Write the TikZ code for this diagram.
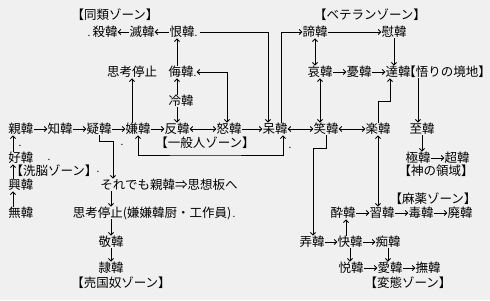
\documentclass[tikz,border=0pt]{standalone}
\usepackage{fontspec}
\setmainfont{Noto Sans CJK JP}
\usetikzlibrary{arrows.meta}
\definecolor{bg}{RGB}{240,240,240}
\newcommand\myzonelabel[1]{\kern-6pt#1\kern-6pt}
\begin{document}
\begin{tikzpicture}[x=1pt,y=-1pt,
  w/.style={inner sep=0pt, text height=11pt, text depth=1.5pt, font=\fontsize{12.5pt}{14pt}\selectfont},
  zone/.style={w},
  dotmark/.style={inner sep=0pt, anchor=base, font=\fontsize{10pt}{12pt}\selectfont},
  conn/.style={draw, line width=0.8pt, -{Straight Barb[length=2.5pt,width=5pt]}},
  conn2/.style={draw, line width=0.8pt, {Straight Barb[length=2.5pt,width=5pt]}-{Straight Barb[length=2.5pt,width=5pt]}},
  plain/.style={draw, line width=0.8pt}]
\fill[bg] (0,0) rectangle (490,300);
\useasboundingbox (0,0) rectangle (490,300);

% ---- zone labels
\node[zone] (zdourui) at (115,15) {\myzonelabel{【同類ゾーン】}};
\node[zone] (zveteran) at (370,15) {\myzonelabel{【ベテランゾーン】}};
\node[zone] (zippan) at (205,143) {\myzonelabel{【一般人ゾーン】}};
\node[zone] (zsennou) at (54,171) {\myzonelabel{【洗脳ゾーン】}};
\node[zone] (zkami) at (436,171) {\myzonelabel{【神の領域】}};
\node[zone] (zmayaku) at (433,199) {\myzonelabel{【麻薬ゾーン】}};
\node[zone] (zbaikoku) at (121,283) {\myzonelabel{【売国奴ゾーン】}};
\node[zone] (zhentai) at (408,283) {\myzonelabel{【変態ゾーン】}};

% ---- row y=32
\node[w] (satsu) at (105,32) {殺韓};
\node[w] (metsu) at (142,32) {滅韓};
\node[w] (kon) at (182,32) {恨韓};
\node[w] (tei) at (315,32) {諦韓};
\node[w] (i) at (394,32) {慰韓};

% ---- row y=72
\node[w] (shikou) at (132,72) {思考停止};
\node[w] (bu) at (181,72) {侮韓};
\node[w] (ai) at (320,72) {哀韓};
\node[w] (yuu) at (359,72) {憂韓};
\node[w] (tatsu) at (398,72) {達韓};
\node[zone] (satori) at (447,72) {\myzonelabel{【悟りの境地】}};

% ---- row y=101
\node[w] (rei) at (181,101) {冷韓};

% ---- main row y=129
\node[w] (shin) at (21,129) {親韓};
\node[w] (chi) at (60,129) {知韓};
\node[w] (gi) at (99,129) {疑韓};
\node[w] (ken) at (138,129) {嫌韓};
\node[w] (han) at (177,129) {反韓};
\node[w] (do) at (229,129) {怒韓};
\node[w] (bou) at (275,129) {呆韓};
\node[w] (shou) at (326,129) {笑韓};
\node[w] (raku) at (378,129) {楽韓};
\node[w] (shi) at (422,129) {至韓};

% ---- lower rows
\node[w] (kou) at (21,158) {好韓};
\node[w] (goku) at (418,158) {極韓};
\node[w] (chou) at (457,158) {超韓};
\node[w] (kou2) at (21,185) {興韓};
\node[w] (soredemo) at (169,185) {それでも親韓⇒思想板へ};
\node[w] (mu) at (21,213) {無韓};
\node[w] (shikou2) at (152,213) {思考停止(嫌嫌韓厨・工作員)};
\node[w] (sui) at (343,213) {酔韓};
\node[w] (shuu) at (382,213) {習韓};
\node[w] (doku) at (421,213) {毒韓};
\node[w] (hai) at (460,213) {廃韓};
\node[w] (kei) at (111,242) {敬韓};
\node[w] (rou) at (312,242) {弄韓};
\node[w] (kai) at (350,242) {快韓};
\node[w] (chi2) at (388,242) {痴韓};
\node[w] (rei2) at (111,268) {隷韓};
\node[w] (etsu) at (351,268) {悦韓};
\node[w] (ai2) at (390,268) {愛韓};
\node[w] (bu2) at (428,268) {撫韓};

% ---- stray dots printed in the picture
\node[dotmark] (d1) at (89,36) {.};
\node[dotmark] (d2) at (196,36) {.};
\node[dotmark] (d3) at (195,76) {.};
\node[dotmark] (d4) at (20,146) {.};
\node[dotmark] (d5) at (49,160) {.};
\node[dotmark] (d6) at (98,172) {.};
\node[dotmark] (d7) at (122,145) {.};
\node[dotmark] (d8) at (290,148) {.};
\node[dotmark] (d9) at (234,217) {.};

% ---- helper coordinates
\coordinate (bouL) at ([xshift=-7pt]bou.north);
\coordinate (bouR) at ([xshift=6pt]bou.north);
\coordinate (bouB) at ([xshift=8pt]bou.south);
\coordinate (kb) at (200,155);
\coordinate (gb) at (113,141);
\coordinate (rb) at (390,101);
\coordinate (sb) at (313,148);
\coordinate (shiN) at ([xshift=-4pt]shi.north);

% ---- top left
\draw[conn] (metsu.west) -- (satsu.east);
\draw[conn] (kon.west) -- (metsu.east);
\draw[conn] (bu.north -| han) -- (kon.south -| han);
\draw[conn] (rei.north -| han) -- (bu.south -| han);
\draw[conn] (rei.south -| han) -- (han.north);
\draw[conn] (ken.north -| shikou) -- (shikou.south);
\draw[conn2, shorten <=3pt] (bu.east) -| ([xshift=-2pt]do.north);
\draw[conn, shorten <=5pt] (kon.east) -| (bouL);
\draw[conn] (bouR) |- (tei.west);

% ---- main row
\draw[conn] (shin.east) -- (chi.west);
\draw[conn] (chi.east) -- (gi.west);
\draw[conn] (gi.east) -- (ken.west);
\draw[conn] (ken.east) -- (han.west);
\draw[conn2] (han.east) -- (do.west);
\draw[conn] (do.east) -- (bou.west);
\draw[conn2] (bou.east) -- (shou.west);
\draw[conn2] (shou.east) -- (raku.west);
\draw[conn2] (ken.south) |- (kb) -| (bouB);

% ---- left column
\draw[conn] ([xshift=-8pt]kou.north) -- ([xshift=-8pt]shin.south);
\draw[conn] ([xshift=-8pt]kou2.north) -- ([xshift=-8pt]kou.south);
\draw[conn] ([xshift=-8pt]mu.north) -- ([xshift=-8pt]kou2.south);

% ---- brainwash / traitor branch
\draw[conn] (gi.south) |- (gb) -- (gb |- soredemo.north);
\draw[conn] (soredemo.south -| kei) -- (shikou2.north -| kei);
\draw[conn] (shikou2.south -| kei) -- (kei.north);
\draw[conn] (kei.south) -- (rei2.north);

% ---- veteran zone
\draw[conn] (tei.east) -- (i.west);
\draw[conn2] (tei.south) -- (tei.south |- ai.north);
\draw[conn] (i.south) -- (i.south |- tatsu.north);
\draw[conn] (ai.east) -- (yuu.west);
\draw[conn] (yuu.east) -- (tatsu.west);
\draw[conn2] (ai.south) -- (ai.south |- shou.north);
\draw[conn] (raku.north) |- (rb) -- (rb |- tatsu.south);
\draw[conn] (satori.south -| shiN) -- (shiN);
\draw[conn] (shi.south) -- (shi.south |- goku.north);
\draw[conn] (goku.east) -- (chou.west);

% ---- drug / pervert zones
\draw[conn] (shou.south) |- (sb) -- (sb |- rou.north);
\draw[conn2] (raku.south) -- (raku.south |- shuu.north);
\draw[conn] (sui.east) -- (shuu.west);
\draw[conn] (shuu.east) -- (doku.west);
\draw[conn] (doku.east) -- (hai.west);
\draw[conn] ([xshift=-4pt]kai.north) -- ([xshift=-4pt]kai.north |- sui.south);
\draw[conn] (rou.east) -- (kai.west);
\draw[conn] (kai.east) -- (chi2.west);
\draw[conn] (kai.south) -- (kai.south |- etsu.north);
\draw[conn] (chi2.south) -- (chi2.south |- ai2.north);
\draw[conn] (etsu.east) -- (ai2.west);
\draw[conn] (ai2.east) -- (bu2.west);
\end{tikzpicture}
\end{document}
